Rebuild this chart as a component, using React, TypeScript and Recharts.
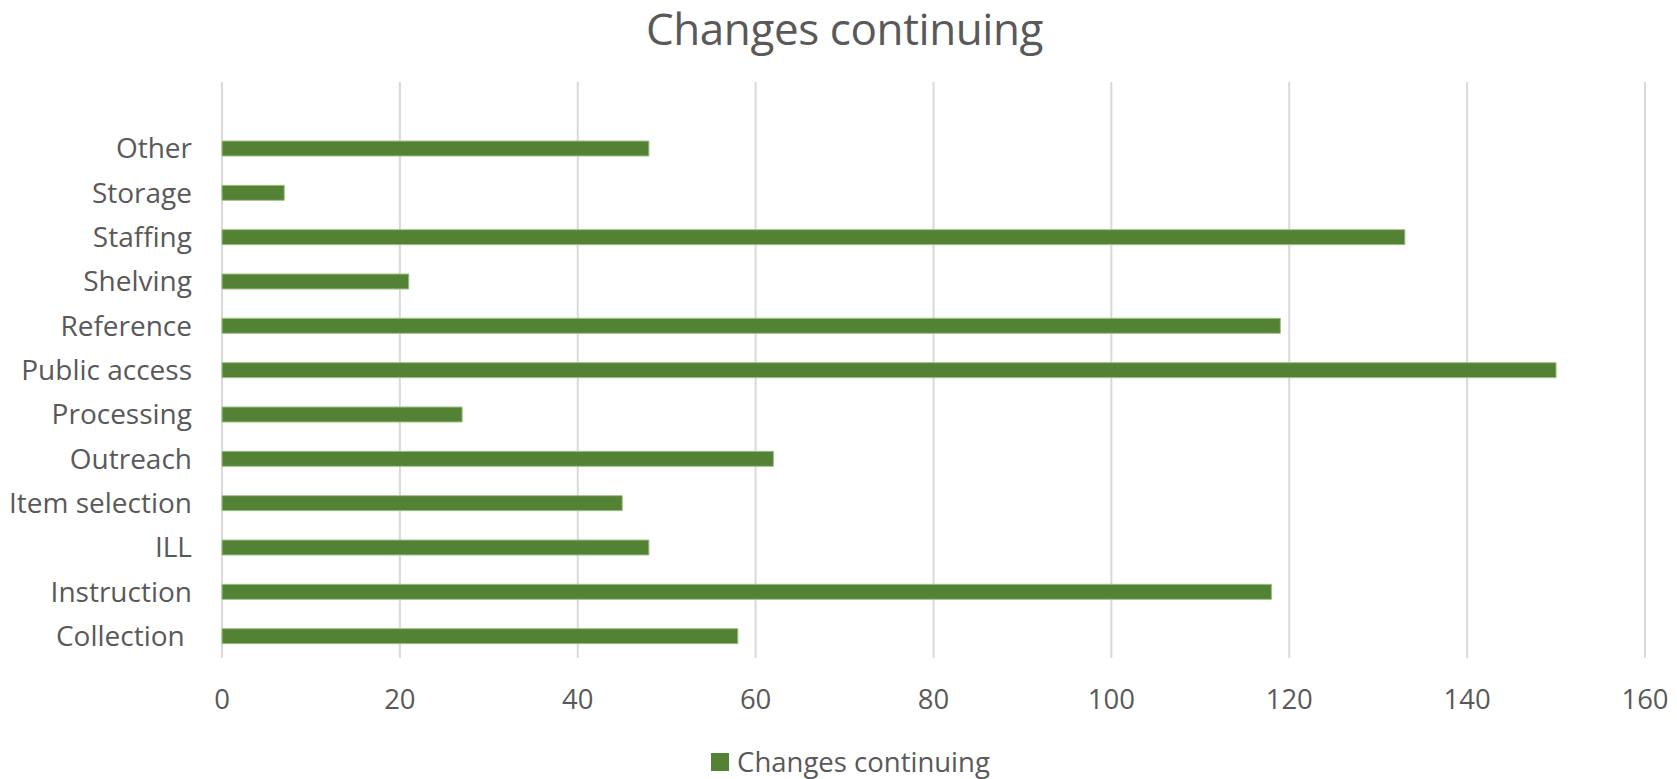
import React from "react";
import { BarChart, Bar, XAxis, YAxis, CartesianGrid, Legend } from "recharts";

const categories = [
  "Other",
  "Storage",
  "Staffing",
  "Shelving",
  "Reference",
  "Public access",
  "Processing",
  "Outreach",
  "Item selection",
  "ILL",
  "Instruction",
  "Collection ",
];
const changesContinuing = [48, 7, 133, 21, 119, 150, 27, 62, 45, 48, 118, 58];
const xTicks = [0, 20, 40, 60, 80, 100, 120, 140, 160];

const seriesName = "Changes continuing";
const data = categories.map((name, i) => ({ name, value: changesContinuing[i] }));

const FONT = "'Open Sans', 'Noto Sans', sans-serif";
const TEXT = "#595959";
const GREEN = "#548235";

const YTick = (props: any) => {
  const { x, y, payload } = props;
  return (
    <text
      x={x - 30}
      y={y}
      dy="0.36em"
      textAnchor="end"
      fill={TEXT}
      fontSize={28}
      fontFamily={FONT}
      style={{ whiteSpace: "pre" }}
    >
      {payload.value}
    </text>
  );
};

const XTick = (props: any) => {
  const { x, y, payload } = props;
  return (
    <text x={x} y={y + 51} textAnchor="middle" fill={TEXT} fontSize={27.5} fontFamily={FONT}>
      {payload.value}
    </text>
  );
};

const LegendContent = () => (
  <div
    style={{
      height: 34,
      display: "flex",
      alignItems: "center",
      justifyContent: "center",
      paddingLeft: 56,
      boxSizing: "border-box",
      fontFamily: FONT,
      fontSize: 27.5,
      color: TEXT,
      lineHeight: "34px",
    }}
  >
    <span style={{ display: "inline-block", width: 18, height: 18, background: GREEN, marginRight: 8 }} />
    <span>{seriesName}</span>
  </div>
);

export default function App() {
  return (
    <div style={{ position: "absolute", left: 0, top: 0, width: 1677, height: 779, background: "#fff" }}>
      <div
        style={{
          position: "absolute",
          left: 0,
          top: 0,
          width: 1677,
          textAlign: "center",
          fontFamily: FONT,
          fontSize: 44,
          letterSpacing: -0.4,
          color: TEXT,
          lineHeight: "56px",
          paddingLeft: 12,
          boxSizing: "border-box",
          zIndex: 2,
        }}
      >
        Changes continuing
      </div>
      <BarChart
        width={1677}
        height={779}
        data={data}
        layout="vertical"
        margin={{ top: 82, right: 32, left: 0, bottom: 0 }}
      >
        <CartesianGrid horizontal={false} stroke="#d9d9d9" strokeWidth={2} />
        <XAxis
          type="number"
          domain={[0, 160]}
          ticks={xTicks}
          axisLine={false}
          tickLine={false}
          tickSize={0}
          tickMargin={0}
          height={87}
          tick={<XTick />}
          interval={0}
        />
        <YAxis
          type="category"
          dataKey="name"
          width={222}
          axisLine={false}
          tickLine={false}
          tickSize={0}
          tickMargin={0}
          padding={{ top: 44, bottom: 0 }}
          tick={<YTick />}
          interval={0}
        />
        <Legend verticalAlign="bottom" height={34} content={<LegendContent />} />
        <Bar
          dataKey="value"
          name={seriesName}
          fill={GREEN}
          stroke="#9fbf87"
          strokeWidth={1}
          barSize={15}
          isAnimationActive={false}
        />
      </BarChart>
    </div>
  );
}
